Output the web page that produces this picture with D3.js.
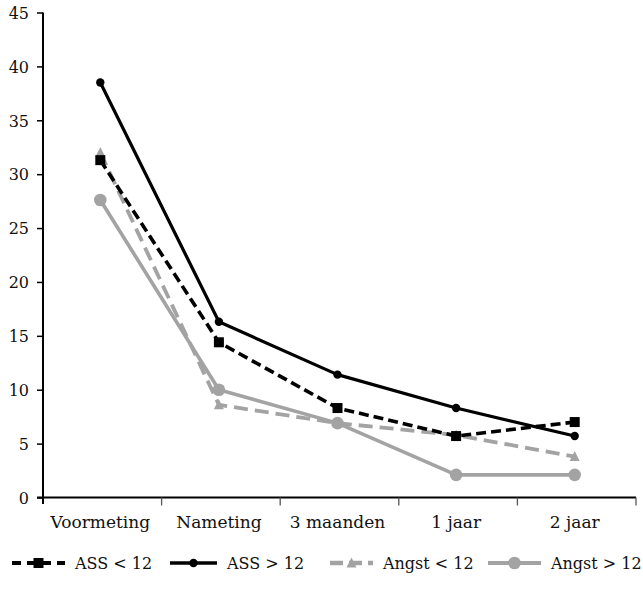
<!DOCTYPE html>
<html>
<head>
<meta charset="utf-8">
<script src="https://cdn.jsdelivr.net/npm/d3@7"></script>
<style>
  html, body { margin: 0; padding: 0; background: #fff; }
</style>
</head>
<body>
<svg id="chart" width="643" height="591"></svg>
<script>
// ---- data ----
const categories = ["Voormeting", "Nameting", "3 maanden", "1 jaar", "2 jaar"];
const seriesNames = ["ASS < 12", "ASS > 12", "Angst < 12", "Angst > 12"];
const assLow   = [31.3, 14.4, 8.3, 5.7, 7.0];
const assHigh  = [38.5, 16.3, 11.4, 8.3, 5.7];
const angstLow = [32.0, 8.6, 6.9, 5.8, 3.8];
const angstHigh= [27.6, 10.0, 6.9, 2.1, 2.1];
const yTicks = [0, 5, 10, 15, 20, 25, 30, 35, 40, 45];

const FONT = "'DejaVu Serif', serif";

// ---- styles ----
const styles = [
  { name: seriesNames[0], values: assLow,   color: "#000", width: 3.6, dash: "10,5",  marker: "square",   size: 10 },
  { name: seriesNames[1], values: assHigh,  color: "#000", width: 3.2, dash: null,    marker: "circle",   size: 4.2 },
  { name: seriesNames[2], values: angstLow, color: "#a3a3a3", width: 3.8, dash: "14,7", marker: "triangle", size: 10 },
  { name: seriesNames[3], values: angstHigh,color: "#a3a3a3", width: 3.6, dash: null,    marker: "circle",   size: 6.3 }
];

const svg = d3.select("#chart");
const x = d3.scaleBand().domain(categories).range([41, 634]);
const y = d3.scaleLinear().domain([0, 45]).range([497.5, 12.5]);

// y axis
const yAxis = svg.append("g").attr("transform", "translate(43,0)")
  .call(d3.axisLeft(y).tickValues(yTicks).tickSize(6).tickPadding(8).tickFormat(d3.format("d")));
yAxis.attr("font-family", null);
yAxis.select(".domain").attr("stroke", "#000").attr("stroke-width", 2).attr("d", "M0,12.5V504");
yAxis.selectAll(".tick line").attr("stroke", "#000").attr("stroke-width", 1.5);
yAxis.selectAll(".tick text").style("font-family", FONT).style("font-size", "16px").attr("dy", "0.36em").attr("fill", "#111");

// x axis
const xAxis = svg.append("g").attr("transform", "translate(0,497.5)")
  .call(d3.axisBottom(x).tickSize(0).tickPadding(0));
xAxis.attr("font-family", null);
xAxis.select(".domain").attr("stroke", "#000").attr("stroke-width", 2).attr("d", "M37,0H636");
xAxis.selectAll(".tick text").style("font-family", FONT).style("font-size", "17px").attr("y", 30).attr("dy", 0).attr("fill", "#111");
// band edge ticks
const edges = categories.map(c => x(c)).concat([x(categories[categories.length - 1]) + x.bandwidth()]);
xAxis.selectAll(".edge").data(edges.slice(1)).enter().append("line")
  .attr("x1", d => d + 2).attr("x2", d => d + 2).attr("y1", 0).attr("y2", 8)
  .attr("stroke", "#555").attr("stroke-width", 1.3);

const line = d3.line()
  .x((d, i) => x(categories[i]) + x.bandwidth() / 2)
  .y(d => y(d));

function drawMarker(g, type, size, color, cx, cy) {
  if (type === "square") {
    g.append("rect").attr("x", cx - size / 2).attr("y", cy - size / 2)
      .attr("width", size).attr("height", size).attr("fill", color);
  } else if (type === "circle") {
    g.append("circle").attr("cx", cx).attr("cy", cy).attr("r", size).attr("fill", color);
  } else if (type === "triangle") {
    const h = size * 0.9;
    g.append("path").attr("d", `M${cx},${cy - h / 2 - 1}L${cx + size / 2},${cy + h / 2}L${cx - size / 2},${cy + h / 2}Z`)
      .attr("fill", color);
  }
}

// draw grey first, then black
const order = [3, 2, 0, 1];
order.forEach(k => {
  const s = styles[k];
  const g = svg.append("g");
  g.append("path").datum(s.values).attr("d", line)
    .attr("fill", "none").attr("stroke", s.color).attr("stroke-width", s.width)
    .attr("stroke-dasharray", s.dash).attr("stroke-linejoin", "round");
  s.values.forEach((v, i) => drawMarker(g, s.marker, s.size, s.color, x(categories[i]) + x.bandwidth() / 2, y(v)));
});

// legend
const legendY = 563;
const legendStarts = [12, 170, 330, 488];
const legendLens = [53, 47, 43, 53];
styles.forEach((s, k) => {
  const g = svg.append("g");
  const x0 = legendStarts[k], len = legendLens[k];
  g.append("line").attr("x1", x0).attr("x2", x0 + len).attr("y1", legendY).attr("y2", legendY)
    .attr("stroke", s.color).attr("stroke-width", s.width + 0.5)
    .attr("stroke-dasharray", s.dash ? (k === 0 ? "9,6" : "13,6") : null);
  drawMarker(g, s.marker, s.size, s.color, x0 + len / 2, legendY);
  g.append("text").attr("x", x0 + len + 10).attr("y", legendY + 6)
    .style("font-family", FONT).style("font-size", "16px").attr("fill", "#111").text(s.name);
});
</script>
</body>
</html>
